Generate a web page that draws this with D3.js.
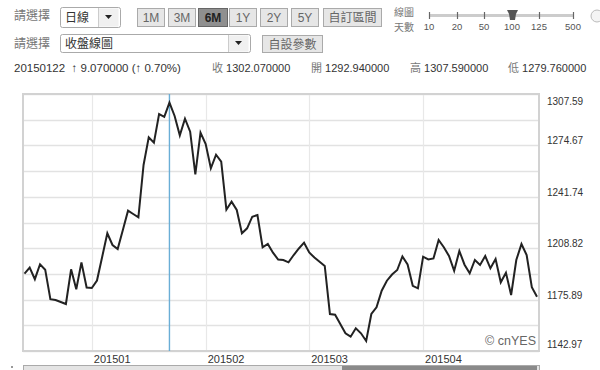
<!DOCTYPE html>
<html><head><meta charset="utf-8">
<script src="https://cdn.jsdelivr.net/npm/d3@7"></script>
<style>
html,body{margin:0;padding:0;background:#fff;}
svg{display:block;}
</style></head>
<body><svg id="c" width="600" height="370"></svg>
<script>
// ---- data ----
const closes = [
1192.49,1196.33,1188.96,1198.51,1195.05,1176.15,1175.64,1174.36,1173.08,1195.30,
1182.56,1199.72,1183.65,1183.33,1188.13,1203.18,1218.36,1210.87,1208.31,1220.48,
1232.84,1230.73,1228.61,1262.11,1279.85,1276.40,1294.78,1293.00,1302.07,1293.50,
1281.14,1291.77,1283.44,1256.16,1282.80,1275.56,1260.00,1268.71,1264.23,1233.48,
1238.60,1233.29,1218.36,1221.57,1229.00,1230.08,1209.40,1211.51,1205.94,1201.58,
1201.26,1199.79,1204.46,1208.63,1212.34,1206.06,1202.86,1200.17,1197.42,1166.67,
1166.22,1160.27,1154.31,1152.13,1157.51,1154.31,1149.38,1166.67,1170.96,1181.60,
1188.00,1191.97,1194.85,1203.50,1198.38,1184.73,1183.13,1203.37,1201.58,1202.22,
1214.07,1209.40,1203.82,1194.34,1207.03,1198.25,1192.74,1201.26,1198.06,1203.82,
1195.94,1201.90,1186.98,1193.13,1178.84,1201.26,1211.51,1204.46,1183.84,1177.75
];
const monthLabels = ["201501","201502","201503","201504"];
const monthStartIndex = [13,35,55,77];
const yTickLabels = [1307.59,1274.67,1241.74,1208.82,1175.89,1142.97];
const cursorIndex = 28;
const rangeButtons = ["1M","3M","6M","1Y","2Y","5Y"];
const activeRange = "6M";
const sliderLabels = ["10","20","50","100","125","500"];
const activeSlider = "100";
const infoDate = "20150122";
const infoChange = "↑ 9.070000 (↑ 0.70%)";
const infoFields = [["收","1302.070000"],["開","1292.940000"],["高","1307.590000"],["低","1279.760000"]];

// ---- drawing ----
const svg = d3.select("#c");
const L=23, R=539, T=94, B=351;
const x = d3.scaleLinear().domain([0, closes.length-1]).range([24.5, 537]);
const y = d3.scaleLinear().domain([1142.97, 1307.59]).range([B, T]);
const latin = "'Liberation Sans', Arial, sans-serif";
const cjk = "'Noto Sans CJK TC', 'Liberation Sans', sans-serif";

// header row 1
function label(t, xx, yy){ svg.append("text").attr("x",xx).attr("y",yy).attr("font-family",cjk).attr("font-size",12).attr("fill","#777").text(t); }
label("請選擇", 14, 20);
label("請選擇", 14, 48);

function dropdown(x0,y0,w,h,t){
  const g=svg.append("g");
  g.append("rect").attr("x",x0+.5).attr("y",y0+.5).attr("width",w).attr("height",h).attr("rx",2)
    .attr("fill","#fff").attr("stroke","#aaa");
  g.append("rect").attr("x",x0+w-21.5).attr("y",y0+1.5).attr("width",20).attr("height",h-2)
    .attr("fill","#f0f0f0");
  g.append("line").attr("x1",x0+w-21.5).attr("x2",x0+w-21.5).attr("y1",y0+1).attr("y2",y0+h).attr("stroke","#ccc");
  const ax=x0+w-11.5, ay=y0+h/2;
  g.append("path").attr("d",`M${ax-3.5},${ay-2}L${ax+3.5},${ay-2}L${ax},${ay+2}Z`).attr("fill","#222");
  g.append("text").attr("x",x0+5).attr("y",y0+h/2+4.5).attr("font-family",cjk).attr("font-size",12).attr("fill","#333").text(t);
}
dropdown(60,7,60,20,"日線");
dropdown(60,34,190,18,"收盤線圖");

const btnX=[137,168,198,229,260,291], btnW=[27,27,29,27,27,27];
rangeButtons.forEach((b,i)=>{
  const act=b===activeRange;
  svg.append("rect").attr("x",btnX[i]+.5).attr("y",8.5).attr("width",btnW[i]).attr("height",18)
    .attr("fill",act?"#8f8f8f":"#e6e6e6").attr("stroke",act?"#666":"#aaa");
  svg.append("text").attr("x",btnX[i]+btnW[i]/2+.5).attr("y",22).attr("text-anchor","middle")
    .attr("font-family",latin).attr("font-size",12).attr("font-weight",act?"bold":"normal")
    .attr("fill",act?"#222":"#666").text(b);
});
function tbtn(x0,y0,w,h,t){
  svg.append("rect").attr("x",x0+.5).attr("y",y0+.5).attr("width",w).attr("height",h).attr("fill","#e6e6e6").attr("stroke","#aaa");
  svg.append("text").attr("x",x0+w/2+.5).attr("y",y0+h/2+5).attr("text-anchor","middle").attr("font-family",cjk)
    .attr("font-size",12).attr("fill","#666").text(t);
}
tbtn(323,8,58,18,"自訂區間");
tbtn(262,35,60,17,"自設參數");

// slider
svg.append("text").attr("x",394).attr("y",16).attr("font-family",cjk).attr("font-size",10).attr("fill","#777").text("線圖");
svg.append("text").attr("x",394).attr("y",31).attr("font-family",cjk).attr("font-size",10).attr("fill","#777").text("天數");
const sx=[429,457,484,512,539,573];
svg.append("line").attr("x1",429).attr("x2",574).attr("y1",15.5).attr("y2",15.5).attr("stroke","#ccc").attr("stroke-width",3);
sliderLabels.forEach((s,i)=>{
  svg.append("line").attr("x1",sx[i]+.5).attr("x2",sx[i]+.5).attr("y1",12).attr("y2",19).attr("stroke","#666").attr("stroke-width",1.2);
  svg.append("text").attr("x",sx[i]).attr("y",30).attr("text-anchor","middle").attr("font-family",latin).attr("font-size",9.5).attr("fill","#555").text(s);
  if(s===activeSlider){
    svg.append("path").attr("d",`M${sx[i]-5},10L${sx[i]+6},10L${sx[i]+4},14L${sx[i]+3},20L${sx[i]-2},20L${sx[i]-3},14Z`).attr("fill","#555");
  }
});
svg.append("circle").attr("cx",597).attr("cy",16).attr("r",6).attr("fill","#f4f4f4").attr("stroke","#bbb");

// info row
svg.append("text").attr("x",14).attr("y",72).attr("font-family",latin).attr("font-size",11.5).attr("fill","#333")
  .attr("xml:space","preserve").style("white-space","pre")
  .text(infoDate+"  "+infoChange);
const infoX=[212,311,410,508];
infoFields.forEach((f,i)=>{
  const t=svg.append("text").attr("x",infoX[i]).attr("y",72).attr("font-size",11).attr("fill","#333");
  t.append("tspan").attr("font-family",cjk).attr("fill","#777").text(f[0]);
  t.append("tspan").attr("font-family",latin).text(" "+f[1]);
});

// grid
const ticks = d3.range(11).map(i=>1142.97+i*(1307.59-1142.97)/10);
svg.append("g").selectAll("line").data(ticks).join("line")
  .attr("x1",L).attr("x2",R).attr("y1",d=>Math.round(y(d))+.5).attr("y2",d=>Math.round(y(d))+.5)
  .attr("stroke","#e2e2e2").attr("stroke-width",1.3);
svg.append("g").selectAll("line").data(monthStartIndex).join("line")
  .attr("x1",d=>Math.round(x(d))+.5).attr("x2",d=>Math.round(x(d))+.5).attr("y1",T).attr("y2",B)
  .attr("stroke","#e8e8e8").attr("stroke-width",1.2);
svg.append("rect").attr("x",L).attr("y",T).attr("width",R-L).attr("height",B-T)
  .attr("fill","none").attr("stroke","#d2d2d2").attr("stroke-width",2);

// month labels
svg.append("g").selectAll("text").data(monthLabels).join("text")
  .attr("x",(d,i)=>x(monthStartIndex[i])+2).attr("y",363).attr("font-family",latin).attr("font-size",11).attr("fill","#333").text(d=>d);

// y labels
svg.append("g").selectAll("text").data(yTickLabels).join("text")
  .attr("x",547).attr("y",(d,i)=> i===0 ? y(d)+11 : (i===yTickLabels.length-1 ? y(d)-3 : y(d)-1))
  .attr("font-family",latin).attr("font-size",10).attr("fill","#333").text(d=>d.toFixed(2));

// cursor
svg.append("line").attr("x1",x(cursorIndex)).attr("x2",x(cursorIndex)).attr("y1",T).attr("y2",B)
  .attr("stroke","#6aaed6").attr("stroke-width",1.4);

// line
svg.append("path").datum(closes)
  .attr("d",d3.line().x((d,i)=>x(i)).y(d=>y(d)))
  .attr("fill","none").attr("stroke","#222").attr("stroke-width",2).attr("stroke-linejoin","miter");

// watermark
svg.append("text").attr("x",536).attr("y",345).attr("text-anchor","end").attr("font-family",latin).attr("font-size",12.5).attr("fill","#666").text("© cnYES");

// navigator bar
svg.append("rect").attr("x",L+.5).attr("y",365.5).attr("width",R-L).attr("height",8).attr("fill","#e4e4e4").attr("stroke","#aaa");
svg.append("rect").attr("x",342).attr("y",366).attr("width",195).attr("height",8).attr("fill","#8a8a8a");
svg.append("rect").attr("x",11).attr("y",366).attr("width",2).attr("height",2).attr("fill","#999");
</script></body></html>
